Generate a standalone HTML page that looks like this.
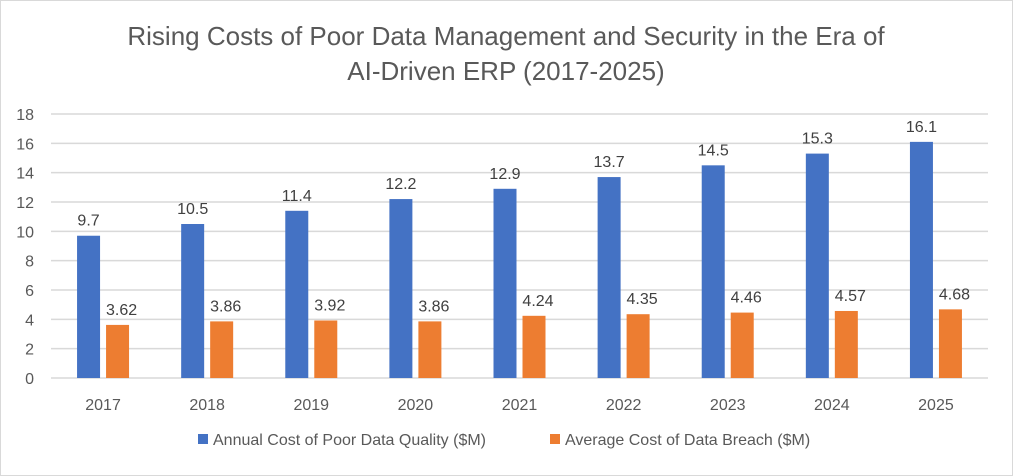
<!DOCTYPE html>
<html><head><meta charset="utf-8"><style>
body{margin:0;background:#fff;}
svg{display:block;font-family:"Liberation Sans",sans-serif;}
</style></head><body>
<svg width="1013" height="476">
<rect x="0.5" y="0.5" width="1012" height="475" fill="#fff" stroke="#d9d9d9"/>
<text x="506" y="45" text-anchor="middle" font-size="26" fill="#595959">Rising Costs of Poor Data Management and Security in the Era of</text>
<text x="506" y="80" text-anchor="middle" font-size="26" fill="#595959">AI-Driven ERP (2017-2025)</text>
<g id="grid"></g><g id="bars"></g>
<g>
<rect x="198" y="434" width="10" height="10" fill="#4472c4"/>
<text x="213" y="445" font-size="16" fill="#595959">Annual Cost of Poor Data Quality ($M)</text>
<rect x="550" y="434" width="10" height="10" fill="#ed7d31"/>
<text x="565" y="445" font-size="16" fill="#595959">Average Cost of Data Breach ($M)</text>
</g>
</svg>
<script>
const categories=["2017","2018","2019","2020","2021","2022","2023","2024","2025"];
const qualityValues=[9.7,10.5,11.4,12.2,12.9,13.7,14.5,15.3,16.1];
const breachValues=[3.62,3.86,3.92,3.86,4.24,4.35,4.46,4.57,4.68];
const qualityLabels=["9.7","10.5","11.4","12.2","12.9","13.7","14.5","15.3","16.1"];
const breachLabels=["3.62","3.86","3.92","3.86","4.24","4.35","4.46","4.57","4.68"];
const yTicks=[0,2,4,6,8,10,12,14,16,18];
const NS="http://www.w3.org/2000/svg";
const L=51,R=988,T=114,B=378,YMAX=18;
const y=v=>B-(B-T)*v/YMAX;
const cw=(R-L)/categories.length;
const xc=i=>L+cw*(i+0.5);
function mk(tag,attrs,parent,txt){const e=document.createElementNS(NS,tag);for(const k in attrs)e.setAttribute(k,attrs[k]);if(txt!==undefined)e.textContent=txt;parent.appendChild(e);return e;}
const grid=document.getElementById('grid'),bars=document.getElementById('bars');
yTicks.forEach(t=>{
 const l=mk('line',{x1:L,x2:R,y1:y(t),y2:y(t),stroke:'#d9d9d9','stroke-width':1.5},grid);
 
 
 const tx=mk('text',{x:34,y:y(t)+6,'text-anchor':'end','font-size':16,fill:'#595959'},grid,String(t));
 
 
});
const bw=23,gap=6;
categories.forEach((c,i)=>{
 const cx=xc(i);
 const bx=cx-gap/2-bw, ox=cx+gap/2;
 const b=mk('rect',{x:bx,y:y(qualityValues[i]),width:bw,height:B-y(qualityValues[i]),fill:'#4472c4'},bars);
 
 
 const o=mk('rect',{x:ox,y:y(breachValues[i]),width:bw,height:B-y(breachValues[i]),fill:'#ed7d31'},bars);
 
 
 const ql=mk('text',{x:bx+bw/2,y:y(qualityValues[i])-10,'text-anchor':'middle','font-size':16,fill:'#404040'},bars,qualityLabels[i]);
 
 
 const bl=mk('text',{x:ox+bw/2+4,y:y(breachValues[i])-10,'text-anchor':'middle','font-size':16,fill:'#404040'},bars,breachLabels[i]);
 
 
 const xl=mk('text',{x:cx,y:410,'text-anchor':'middle','font-size':16,fill:'#595959'},bars,c);
 
 
});
</script>
</body></html>
